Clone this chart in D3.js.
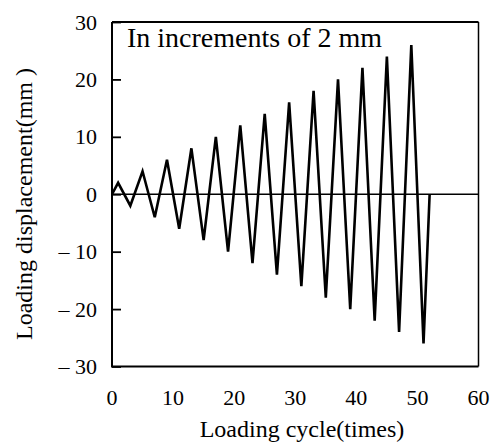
<!DOCTYPE html>
<html>
<head>
<meta charset="utf-8">
<script src="https://cdn.jsdelivr.net/npm/d3@7"></script>
</head>
<body style="margin:0">
<svg id="chart" width="492" height="445" font-family="serif"></svg>
<script>
// loading protocol: cycle number vs target displacement (mm)
const cycles = [0, 1, 3, 5, 7, 9, 11, 13, 15, 17, 19, 21, 23, 25, 27, 29, 31, 33, 35, 37, 39, 41, 43, 45, 47, 49, 51, 52];
const displacement = [0, 2, -2, 4, -4, 6, -6, 8, -8, 10, -10, 12, -12, 14, -14, 16, -16, 18, -18, 20, -20, 22, -22, 24, -24, 26, -26, 0];

const xTicks = [0, 10, 20, 30, 40, 50, 60];
const yTicks = [30, 20, 10, 0, -10, -20, -30];
const yTickLabels = ['30', '20', '10', '0', '\u2013 10', '\u2013 20', '\u2013 30'];

const titleText = 'In increments of 2 mm';
const xLabel = 'Loading cycle(times)';
const yLabel = 'Loading displacement(mm )';

const width = 492;
const height = 445;
const margin = { top: 22, right: 13.5, bottom: 78.5, left: 112 };
const font = 'Times New Roman, Liberation Serif, serif';

const data = cycles.map((c, i) => ({ x: c, y: displacement[i] }));

const svg = d3.select('#chart');

const xScale = d3.scaleLinear()
  .domain([0, 60])
  .range([margin.left, width - margin.right]);

const yScale = d3.scaleLinear()
  .domain([-30, 30])
  .range([height - margin.bottom, margin.top]);

// frame (top/right thinner)
svg.append('line')
  .attr('x1', xScale(0)).attr('x2', xScale(60))
  .attr('y1', yScale(30)).attr('y2', yScale(30))
  .attr('stroke', '#000').attr('stroke-width', 2);
svg.append('line')
  .attr('x1', xScale(60)).attr('x2', xScale(60))
  .attr('y1', yScale(30)).attr('y2', yScale(-30))
  .attr('stroke', '#000').attr('stroke-width', 1.5);

// zero line
svg.append('line')
  .attr('x1', xScale(0)).attr('x2', xScale(60))
  .attr('y1', yScale(0)).attr('y2', yScale(0))
  .attr('stroke', '#000').attr('stroke-width', 1.5);

// y axis, ticks pointing inward, labels drawn separately
const yAxis = svg.append('g')
  .attr('transform', `translate(${xScale(0)},0)`)
  .call(d3.axisRight(yScale).tickValues(yTicks).tickSize(9).tickFormat(''))
  .attr('font-family', font);
yAxis.select('.domain').attr('stroke-width', 2).attr('d', `M0,${yScale(-30)}V${yScale(30)}`);
yAxis.selectAll('.tick line').attr('stroke-width', 1.8);
yAxis.selectAll('.tick text').remove();

svg.selectAll('text.ylab')
  .data(yTicks)
  .enter()
  .append('text')
  .attr('class', 'ylab')
  .attr('x', xScale(0) - 15)
  .attr('y', (d) => yScale(d) + 7.5)
  .attr('text-anchor', 'end')
  .attr('font-family', font)
  .attr('font-size', 22)
  .text((d, i) => yTickLabels[i]);

// x axis, no tick marks
const xAxis = svg.append('g')
  .attr('transform', `translate(0,${yScale(-30)})`)
  .call(d3.axisBottom(xScale).tickValues(xTicks).tickSize(0).tickFormat(''))
  .attr('font-family', font);
xAxis.select('.domain').attr('stroke-width', 2).attr('d', `M${xScale(0) - 1},0H${xScale(60)}`);
xAxis.selectAll('.tick text').remove();

svg.selectAll('text.xlab')
  .data(xTicks)
  .enter()
  .append('text')
  .attr('class', 'xlab')
  .attr('x', (d) => xScale(d))
  .attr('y', 405)
  .attr('text-anchor', 'middle')
  .attr('font-family', font)
  .attr('font-size', 22)
  .text((d) => d);

// data line
const line = d3.line()
  .x((d) => xScale(d.x))
  .y((d) => yScale(d.y));

svg.append('path')
  .datum(data)
  .attr('fill', 'none')
  .attr('stroke', '#000')
  .attr('stroke-width', 2.6)
  .attr('d', line);

// annotation
svg.append('text')
  .attr('x', 127)
  .attr('y', 46.5)
  .attr('font-family', font)
  .attr('font-size', 28)
  .text(titleText);

// axis titles
svg.append('text')
  .attr('x', 302)
  .attr('y', 437)
  .attr('text-anchor', 'middle')
  .attr('font-family', font)
  .attr('font-size', 24)
  .text(xLabel);

svg.append('text')
  .attr('transform', 'translate(32,204) rotate(-90)')
  .attr('text-anchor', 'middle')
  .attr('font-family', font)
  .attr('font-size', 24)
  .text(yLabel);
</script>
</body>
</html>
